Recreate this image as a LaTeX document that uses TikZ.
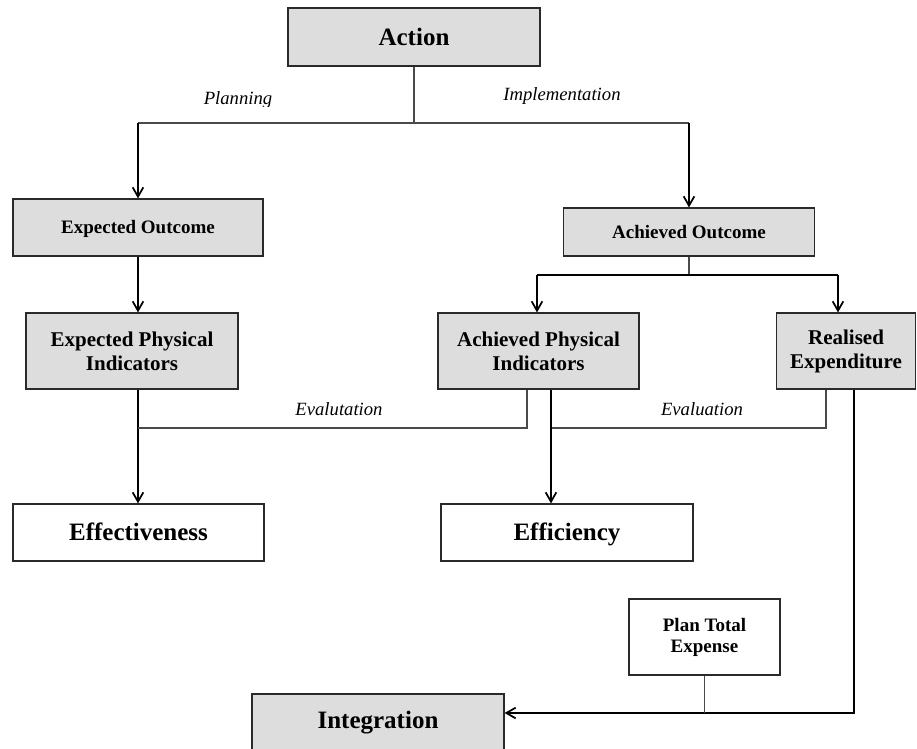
\documentclass[tikz,border=0pt]{standalone}
\usepackage{fontspec}
\setmainfont{Liberation Serif}
\usetikzlibrary{arrows.meta}

\definecolor{boxgray}{HTML}{DDDDDD}
\definecolor{edgegray}{HTML}{2A2A2A}
\definecolor{linkgray}{HTML}{4A4A4A}

\tikzset{
  boxsize/.style 2 args={minimum width=#1*0.75pt, minimum height=#2*0.75pt},
  box/.style={draw=edgegray, line width=0.9pt, inner sep=0pt, align=center},
  shaded/.style={box, fill=boxgray},
  plain/.style={box, fill=white},
  bigtext/.style={font=\bfseries\fontsize{18.75}{22}\selectfont, text height=12.4pt, text depth=0pt},
  midtext/.style={font=\bfseries\fontsize{14.25}{17}\selectfont, text height=9.4pt, text depth=0pt},
  twoline/.style={font=\bfseries\fontsize{15.75}{18}\selectfont},
  smalltwo/.style={font=\bfseries\fontsize{14.25}{15.75}\selectfont},
  thinlink/.style={draw=linkgray, line width=0.8pt},
  flowline/.style={draw=black, line width=1.5pt},
  flow/.style={flowline, -{Straight Barb[length=7pt,width=8pt,line width=1.3pt]}},
  tag/.style={font=\itshape\fontsize{14}{16}\selectfont, inner sep=0pt, anchor=base},
}

\begin{document}
\begin{tikzpicture}[x=0.75pt, y=-0.75pt]
  \useasboundingbox (0,0) rectangle (917,749);
  \clip (0,0) rectangle (917,749);

  % boxes
  \node[shaded, bigtext, boxsize={252}{58}] (action) at (414,37) {Action};
  \node[shaded, midtext, boxsize={250}{57}] (eo) at (138,227.5) {Expected Outcome};
  \node[shaded, midtext, boxsize={251}{48}] (ao) at (689,232) {Achieved Outcome};
  \node[shaded, twoline, boxsize={212}{76}] (epi) at (132,351) {Expected Physical\\Indicators};
  \node[shaded, twoline, boxsize={201}{76}] (api) at (538.5,351) {Achieved Physical\\Indicators};
  \node[shaded, twoline, boxsize={139}{76}] (re) at (846,351) {Realised\\Expenditure};
  \node[plain, bigtext, boxsize={251}{57}] (effect) at (138.5,532.5) {Effectiveness};
  \node[plain, bigtext, boxsize={252}{57}] (effic) at (567,532.5) {Efficiency};
  \node[plain, smalltwo, boxsize={151}{76}] (pte) at (704.5,637) {Plan Total\\Expense};
  \node[shaded, bigtext, text depth=8pt, boxsize={252}{64}] (integ) at (378,726) {Integration};

  % junction points
  \coordinate (split) at (414,123);
  \coordinate (planx) at (138,123);
  \coordinate (implx) at (689,123);
  \coordinate (aosplit) at (689,275);
  \coordinate (apil) at (537,275);
  \coordinate (rer) at (838,275);
  \coordinate (evalA) at (527,428);
  \coordinate (evalB) at (826,428);
  \coordinate (apiout) at (551,428);
  \coordinate (rejoin) at (854,713);

  % action to planning / implementation
  \draw[thinlink] (action.south) -- (split);
  \draw[thinlink] (planx) -- (implx);
  \draw[flow] (planx) -- (eo.north);
  \draw[flow] (implx) -- (ao.north);

  % planning branch
  \draw[flow] (eo.south) -- (eo.south |- epi.north);
  \draw[flow] (planx |- epi.south) -- (planx |- effect.north);

  % implementation branch
  \draw[thinlink] (ao.south) -- (aosplit);
  \draw[flowline] (apil) -- (rer);
  \draw[flow] (apil) -- (apil |- api.north);
  \draw[flow] (rer) -- (rer |- re.north);

  % evaluation links
  \draw[thinlink] (evalA |- api.south) -- (evalA) -- (planx |- evalA);
  \draw[thinlink] (evalB |- re.south) -- (evalB) -- (apiout);
  \draw[flow] (apiout |- api.south) -- (apiout |- effic.north);

  % expenditure to integration
  \draw[flow] (rejoin |- re.south) -- (rejoin) -- (integ.east |- rejoin);
  \draw[thinlink] (pte.south) -- (pte.south |- rejoin);

  % labels
  \begin{scope}
    \clip (150,80) rectangle (330,106.5);
    \node[tag] (planning) at (238,104.5) {Planning};
  \end{scope}
  \node[tag] (implementation) at (562,100) {Implementation};
  \node[tag] (evalleft) at (339,415) {Evalutation};
  \node[tag] (evalright) at (702,415) {Evaluation};
\end{tikzpicture}
\end{document}
